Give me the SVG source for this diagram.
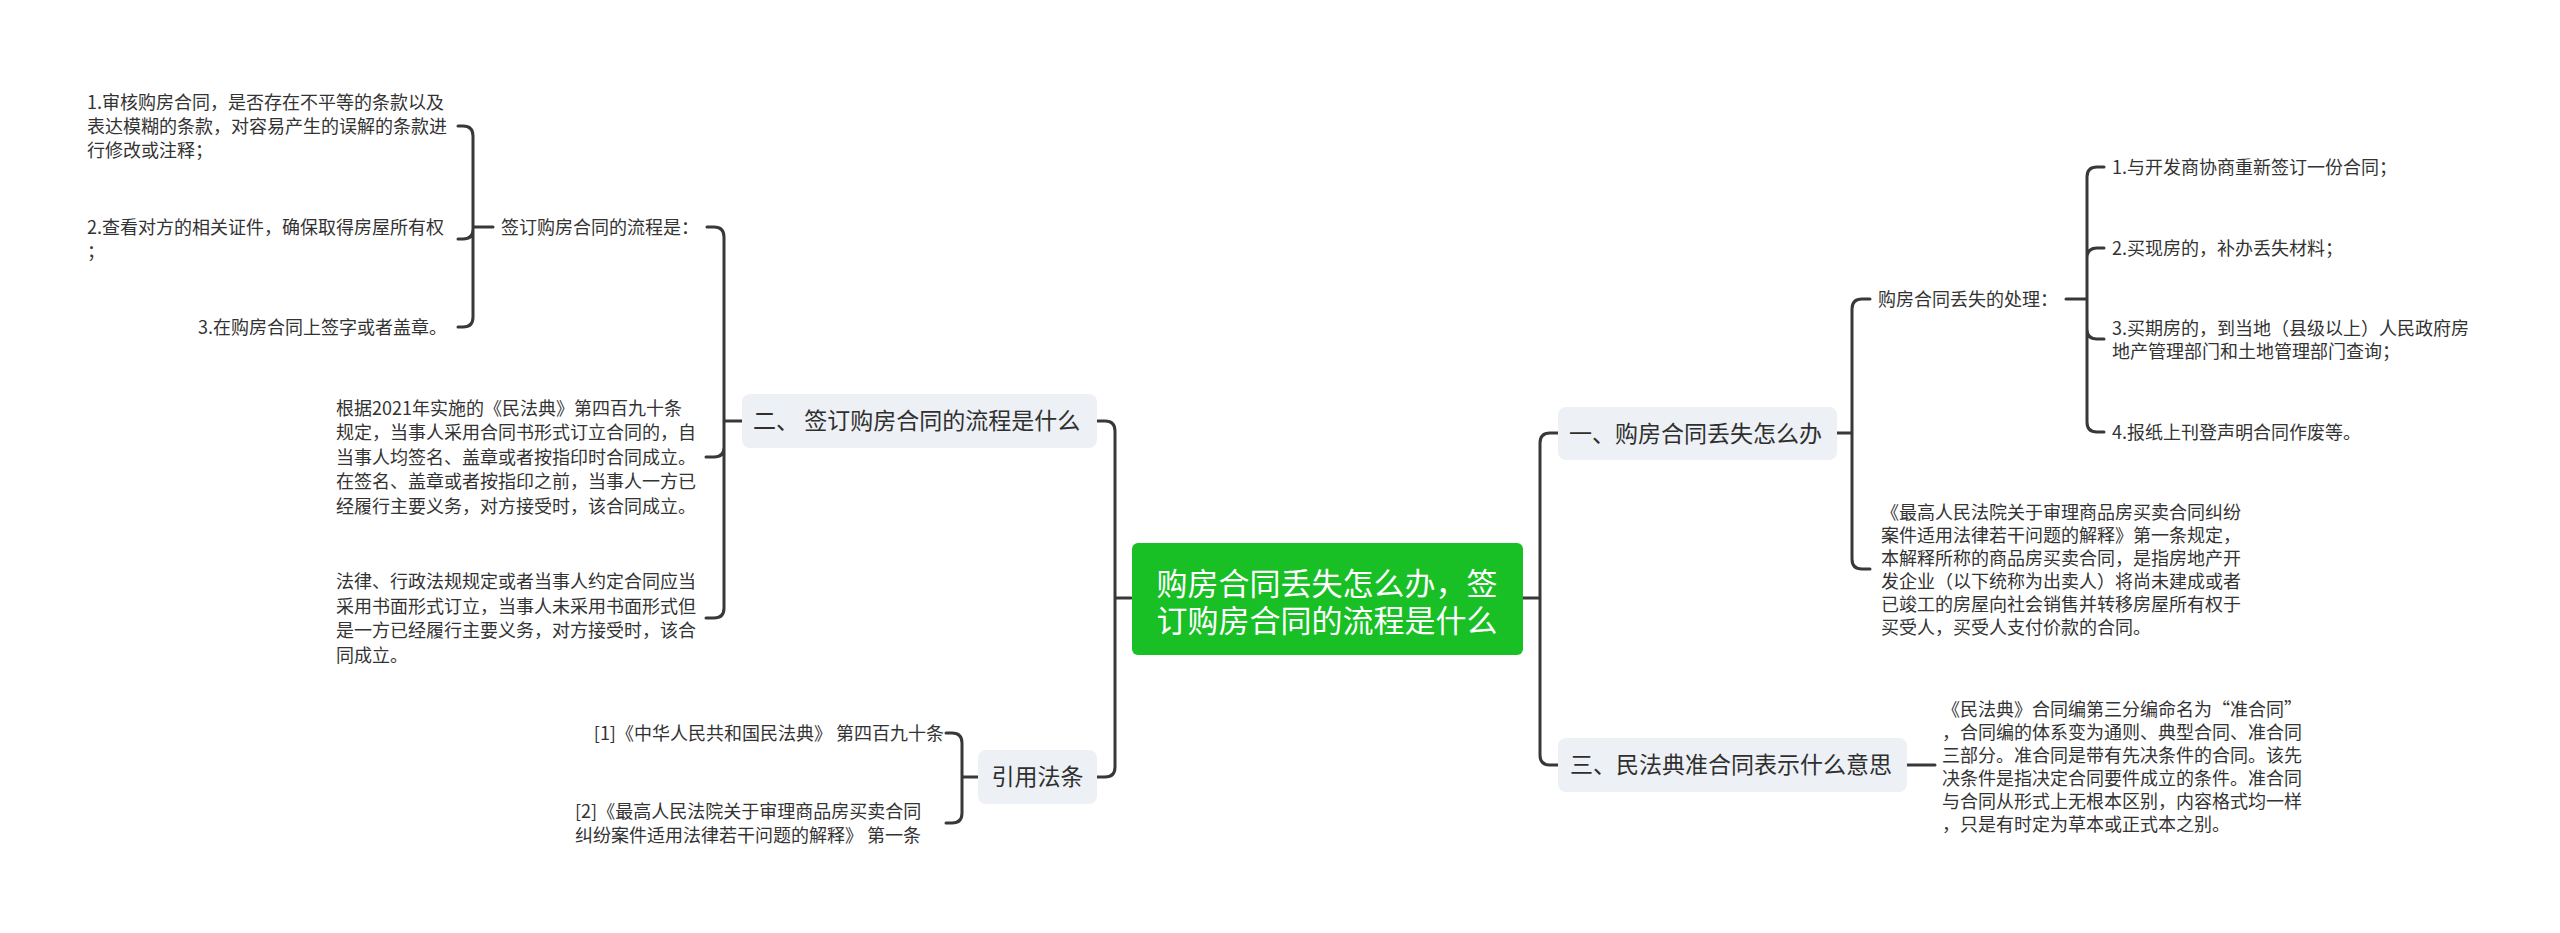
<svg xmlns="http://www.w3.org/2000/svg" width="2560" height="933" viewBox="0 0 2560 933">
<style>
text{font-family:"Noto Sans CJK SC","Noto Sans",sans-serif;fill:#333}
.leaf{font-size:18px}
.br{font-size:23px;fill:#2f2f2f}
.box{fill:#edf0f4}
.root{fill:#18bf25}
.rt{font-size:31px;fill:#fff}
.c{fill:none;stroke:#383838;stroke-width:3;stroke-linecap:round;stroke-linejoin:round}
</style>
<rect width="2560" height="933" fill="#fff"/>
<g id="connectors">
<path class="c" d="M1115,598 H1131 M1115,598 V431 Q1115,421 1105,421 H1097 M1115,598 V767 Q1115,777 1105,777 H1097"/>
<path class="c" d="M724,421 H742 M724,421 V237 Q724,227 714,227 H707 M724,421 V447 Q724,457 714,457 H706 M724,421 V608 Q724,618 714,618 H706"/>
<path class="c" d="M473,227 H493 M473,227 V136 Q473,126 463,126 H458 M473,227 V229 Q473,239 463,239 H458 M473,227 V317 Q473,327 463,327 H458"/>
<path class="c" d="M962,777 H978 M962,777 V743 Q962,733 952,733 H946 M962,777 V813 Q962,823 952,823 H946"/>
<path class="c" d="M1523,598 H1540 M1540,598 V443 Q1540,433 1550,433 H1558 M1540,598 V755 Q1540,765 1550,765 H1558"/>
<path class="c" d="M1837,433 H1852 M1852,433 V309 Q1852,299 1862,299 H1870 M1852,433 V559 Q1852,569 1862,569 H1870"/>
<path class="c" d="M2066,299 H2087 M2087,299 V177 Q2087,167 2097,167 H2104 M2087,299 V258 Q2087,248 2097,248 H2104 M2087,299 V329 Q2087,339 2097,339 H2104 M2087,299 V422 Q2087,432 2097,432 H2104"/>
<path class="c" d="M1907,765 H1935"/>
</g>
<g id="root">
<rect class="root" x="1132" y="543" width="391" height="112" rx="6"/>
<text class="rt" text-anchor="middle"><tspan x="1327" y="595">购房合同丢失怎么办，签</tspan><tspan x="1327" y="632">订购房合同的流程是什么</tspan></text>
</g>
<g id="branch-2">
<rect class="box" x="742" y="394" width="355" height="54" rx="8"/>
<text class="br" x="753" y="429">二、 签订购房合同的流程是什么</text>
</g>
<g id="flow-title">
<text class="leaf" x="501" y="234">签订购房合同的流程是：</text>
</g>
<g id="flow-1">
<text class="leaf"><tspan x="87" y="109">1.审核购房合同，是否存在不平等的条款以及</tspan><tspan x="87" y="133">表达模糊的条款，对容易产生的误解的条款进</tspan><tspan x="87" y="157">行修改或注释；</tspan></text>
</g>
<g id="flow-2">
<text class="leaf"><tspan x="87" y="234">2.查看对方的相关证件，确保取得房屋所有权</tspan><tspan x="87" y="258">；</tspan></text>
</g>
<g id="flow-3">
<text class="leaf" x="447" y="334" text-anchor="end">3.在购房合同上签字或者盖章。</text>
</g>
<g id="para-civil-490">
<text class="leaf"><tspan x="336" y="415">根据2021年实施的《民法典》第四百九十条</tspan><tspan x="336" y="439">规定，当事人采用合同书形式订立合同的，自</tspan><tspan x="336" y="464">当事人均签名、盖章或者按指印时合同成立。</tspan><tspan x="336" y="488">在签名、盖章或者按指印之前，当事人一方已</tspan><tspan x="336" y="513">经履行主要义务，对方接受时，该合同成立。</tspan></text>
</g>
<g id="para-written-form">
<text class="leaf"><tspan x="336" y="588">法律、行政法规规定或者当事人约定合同应当</tspan><tspan x="336" y="613">采用书面形式订立，当事人未采用书面形式但</tspan><tspan x="336" y="637">是一方已经履行主要义务，对方接受时，该合</tspan><tspan x="336" y="662">同成立。</tspan></text>
</g>
<g id="branch-cite">
<rect class="box" x="978" y="750" width="119" height="54" rx="8"/>
<text class="br" x="1037.5" y="785" text-anchor="middle">引用法条</text>
</g>
<g id="cite-1">
<text class="leaf" x="944" y="740" text-anchor="end">[1]《中华人民共和国民法典》 第四百九十条</text>
</g>
<g id="cite-2">
<text class="leaf"><tspan x="575" y="818">[2]《最高人民法院关于审理商品房买卖合同</tspan><tspan x="575" y="842">纠纷案件适用法律若干问题的解释》 第一条</tspan></text>
</g>
<g id="branch-1">
<rect class="box" x="1558" y="407" width="279" height="53" rx="8"/>
<text class="br" x="1569" y="442">一、购房合同丢失怎么办</text>
</g>
<g id="lost-handling">
<text class="leaf" x="1878" y="306">购房合同丢失的处理：</text>
</g>
<g id="lost-1">
<text class="leaf" x="2112" y="174">1.与开发商协商重新签订一份合同；</text>
</g>
<g id="lost-2">
<text class="leaf" x="2112" y="255">2.买现房的，补办丢失材料；</text>
</g>
<g id="lost-3">
<text class="leaf"><tspan x="2112" y="335">3.买期房的，到当地（县级以上）人民政府房</tspan><tspan x="2112" y="358">地产管理部门和土地管理部门查询；</tspan></text>
</g>
<g id="lost-4">
<text class="leaf" x="2112" y="439">4.报纸上刊登声明合同作废等。</text>
</g>
<g id="para-interpretation">
<text class="leaf"><tspan x="1881" y="519">《最高人民法院关于审理商品房买卖合同纠纷</tspan><tspan x="1881" y="542">案件适用法律若干问题的解释》第一条规定，</tspan><tspan x="1881" y="565">本解释所称的商品房买卖合同，是指房地产开</tspan><tspan x="1881" y="588">发企业（以下统称为出卖人）将尚未建成或者</tspan><tspan x="1881" y="611">已竣工的房屋向社会销售并转移房屋所有权于</tspan><tspan x="1881" y="634">买受人，买受人支付价款的合同。</tspan></text>
</g>
<g id="branch-3">
<rect class="box" x="1558" y="738" width="349" height="54" rx="8"/>
<text class="br" x="1570" y="773">三、民法典准合同表示什么意思</text>
</g>
<g id="quasi-contract">
<text class="leaf"><tspan x="1942" y="716">《民法典》合同编第三分编命名为“准合同”</tspan><tspan x="1942" y="739">，合同编的体系变为通则、典型合同、准合同</tspan><tspan x="1942" y="762">三部分。准合同是带有先决条件的合同。该先</tspan><tspan x="1942" y="785">决条件是指决定合同要件成立的条件。准合同</tspan><tspan x="1942" y="808">与合同从形式上无根本区别，内容格式均一样</tspan><tspan x="1942" y="831">，只是有时定为草本或正式本之别。</tspan></text>
</g>
</svg>
